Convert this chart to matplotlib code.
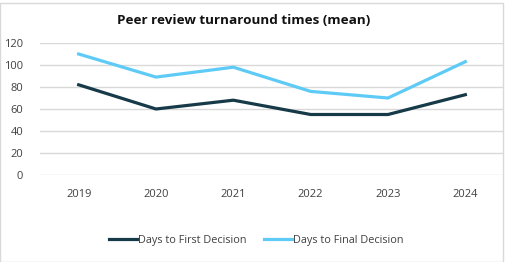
import matplotlib.pyplot as plt
from matplotlib.patches import Rectangle

years = ['2019', '2020', '2021', '2022', '2023', '2024']
first_decision = [82, 60, 68, 55, 55, 73]
final_decision = [110, 89, 98, 76, 70, 103]
yticks = [0, 20, 40, 60, 80, 100, 120]

plt.rcParams['font.family'] = ['Open Sans', 'DejaVu Sans']

fig = plt.figure(figsize=(5.06, 2.62), dpi=100)
ax = fig.add_axes([40 / 506, 1 - 175 / 262, 464 / 506, 132 / 262])

x = range(len(years))
ax.plot(x, first_decision, color='#173a48', lw=2.3, label='Days to First Decision')
ax.plot(x, final_decision, color='#5ecbf6', lw=2.3, label='Days to Final Decision')

ax.set_xlim(-0.5, len(years) - 0.5)
ax.set_ylim(0, 120)
ax.set_yticks(yticks)
ax.set_xticks(list(x))
ax.set_xticklabels(years)
ax.grid(axis='y', color='#d9d9d9', lw=1)
ax.set_axisbelow(True)
for s in ax.spines.values():
    s.set_visible(False)
ax.tick_params(length=0, labelsize=8, colors='#404040')
ax.tick_params(axis='y', pad=12)
ax.tick_params(axis='x', pad=10)

fig.text(244 / 506, 1 - 20 / 262, 'Peer review turnaround times (mean)',
         ha='center', va='center', fontsize=9.7, fontweight='bold', color='#111111')

fig.legend(loc='center', bbox_to_anchor=(256 / 506, 1 - 240 / 262), ncol=2,
           frameon=False, fontsize=7.8, handlelength=2.6, handletextpad=0.1,
           columnspacing=1.6, labelcolor='#404040')

fig.patches.append(Rectangle((0.5 / 506, 0.5 / 262), 503 / 506, 259 / 262,
                             transform=fig.transFigure, fill=False,
                             edgecolor='#d9d9d9', lw=1))

fig.savefig('out.png', dpi=100)
